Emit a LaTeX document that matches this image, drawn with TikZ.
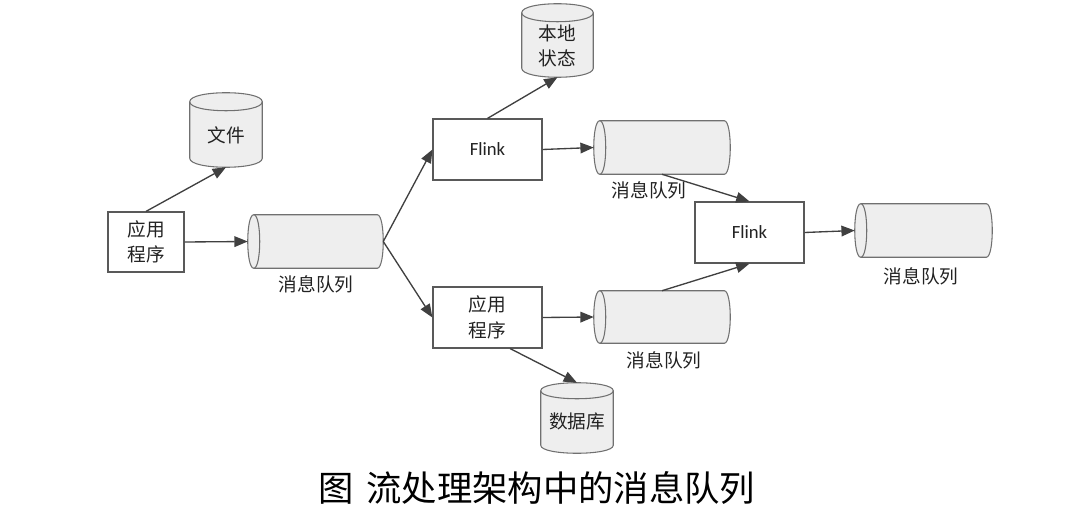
\documentclass[tikz,border=0pt]{standalone}
\usepackage{fontspec}
\setmainfont{Noto Sans CJK SC}
\newfontfamily\latinfont{Carlito}
\usetikzlibrary{arrows.meta,calc,backgrounds}
\definecolor{lineC}{HTML}{404040}
\definecolor{boxC}{HTML}{595959}
\definecolor{cylC}{HTML}{707070}
\definecolor{cylF}{HTML}{EEEEEE}
\definecolor{textC}{HTML}{222222}
% vertical cylinder around node #1, ellipse half-height #2 (px)
\newcommand\vcyl[2]{%
\filldraw[cylS] ($(#1.north west)+(0,#2)$) .. controls +(0,{-4/3*#2}) and +(0,{-4/3*#2}) .. ($(#1.north east)+(0,#2)$) -- ($(#1.south east)+(0,-#2)$) .. controls +(0,{4/3*#2}) and +(0,{4/3*#2}) .. ($(#1.south west)+(0,-#2)$) -- cycle;
\draw[cylS] ($(#1.north west)+(0,#2)$) .. controls +(0,{4/3*#2}) and +(0,{4/3*#2}) .. ($(#1.north east)+(0,#2)$);}
% horizontal cylinder around node #1, ellipse half-width #2 (px)
\newcommand\hcyl[2]{%
\filldraw[cylS] ($(#1.north west)+(#2,0)$) -- ($(#1.north east)+(-#2,0)$) .. controls +({4/3*#2},0) and +({4/3*#2},0) .. ($(#1.south east)+(-#2,0)$) -- ($(#1.south west)+(#2,0)$) .. controls +({-4/3*#2},0) and +({-4/3*#2},0) .. ($(#1.north west)+(#2,0)$) -- cycle;
\draw[cylS] ($(#1.north west)+(#2,0)$) .. controls +({4/3*#2},0) and +({4/3*#2},0) .. ($(#1.south west)+(#2,0)$);}
\begin{document}
\begin{tikzpicture}[x=0.75pt,y=-0.75pt,
  sz/.style 2 args={minimum width={#1*0.75pt}, minimum height={#2*0.75pt}},
  cjk/.style={font=\fontsize{14}{19}\selectfont, text=textC},
  box/.style={cjk, draw=boxC, line width=0.9pt, fill=white, inner sep=0pt, align=center},
  cylN/.style={inner sep=0pt},
  lbl/.style={cjk, inner sep=0pt, align=center},
  flk/.style={font=\latinfont\fontsize{14}{17}\selectfont},
  cylS/.style={draw=cylC, fill=cylF, line width=0.8pt},
  arr/.style={draw=lineC, line width=1pt, -{Triangle[length=10pt,width=8pt]}}]
\useasboundingbox (0,0) rectangle (1080,520);
% boxes
\node[box, sz={76}{60}] (app1) at (146,242) {应用\\程序};
\node[box, flk, sz={109}{61}] (fl1) at (487.5,149.5) {Flink};
\node[box, sz={109}{61}] (app2) at (487.5,317.5) {应用\\程序};
\node[box, flk, sz={109}{61}] (fl3) at (749.5,232.5) {Flink};
% cylinder bodies (shapes drawn below) and their texts
\node[cylN, sz={72}{74}] (file) at (226,130) {};
\node[lbl] (fileT) at (226,135) {文件};
\node[cylN, sz={71}{73}] (state) at (557.5,40.5) {};
\node[lbl] (stateT) at (557.5,46) {本地\\状态};
\node[cylN, sz={72}{70}] (db) at (577,418) {};
\node[lbl] (dbT) at (577,421) {数据库};
\node[cylN, sz={135}{53}] (q1) at (315.5,241.5) {};
\node[lbl] (q1l) at (316,284) {消息队列};
\node[cylN, sz={136}{53}] (q2) at (662,147.5) {};
\node[lbl] (q2l) at (649,190) {消息队列};
\node[cylN, sz={136}{52}] (q3) at (662,317) {};
\node[lbl] (q3l) at (664,360) {消息队列};
\node[cylN, sz={137}{53}] (q4) at (923.5,230.5) {};
\node[lbl] (q4l) at (921,276) {消息队列};
\node[font=\fontsize{26.5}{30}\selectfont, text=black, inner sep=0pt] (cap) at (537,488) {图\hspace{0.35em}流处理架构中的消息队列};
\begin{pgfonlayer}{background}
\vcyl{file}{9}
\vcyl{state}{9}
\vcyl{db}{8}
\hcyl{q1}{6}
\hcyl{q2}{6}
\hcyl{q3}{6}
\hcyl{q4}{6}
\end{pgfonlayer}
% connectors
\draw[arr] (app1.north) -- (file.south);
\draw[arr] (app1.east) -- (q1.west);
\draw[arr] (q1.east) -- (fl1.west);
\draw[arr] (q1.east) -- (app2.west);
\draw[arr] (fl1.north) -- (state.south);
\draw[arr] (fl1.east) -- (q2.west);
\draw[arr] (app2.east) -- (q3.west);
\draw[arr] ([xshift=17pt]app2.south) -- (db.north);
\draw[arr] (q2.south) -- (fl3.north);
\draw[arr] (q3.north) -- (fl3.south);
\draw[arr] (fl3.east) -- (q4.west);
\end{tikzpicture}
\end{document}
